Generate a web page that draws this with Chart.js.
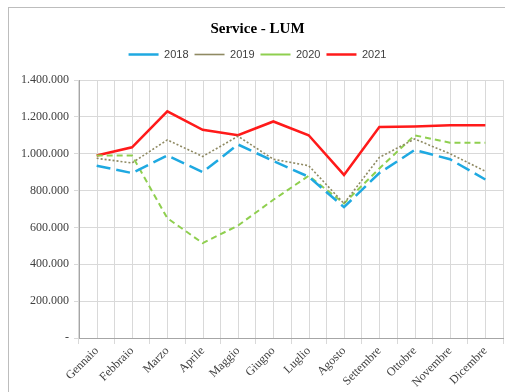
<!DOCTYPE html>
<html>
<head>
<meta charset="utf-8">
<script src="https://cdn.jsdelivr.net/npm/chart.js@4/dist/chart.umd.min.js"></script>
<style>
  html, body { margin: 0; padding: 0; background: #fff; overflow: hidden; }
  #wrap { position: relative; width: 505px; height: 392px; }
  #frame { position: absolute; left: 8px; top: 7px; width: 520px; height: 420px; border: 1px solid #bdbdbd; box-sizing: border-box; }
  canvas { position: absolute; left: 0; top: 0; }
</style>
</head>
<body>
<div id="wrap">
  <div id="frame"></div>
  <canvas id="chart" width="505" height="392"></canvas>
</div>
<script>
const months = ['Gennaio', 'Febbraio', 'Marzo', 'Aprile', 'Maggio', 'Giugno', 'Luglio', 'Agosto', 'Settembre', 'Ottobre', 'Novembre', 'Dicembre'];
const s2018 = [935000, 895000, 990000, 900000, 1050000, 960000, 875000, 710000, 895000, 1020000, 970000, 860000];
const s2019 = [975000, 950000, 1075000, 985000, 1095000, 970000, 935000, 730000, 980000, 1080000, 1000000, 905000];
const s2020 = [990000, 990000, 650000, 515000, 610000, 750000, 880000, 730000, 920000, 1100000, 1060000, 1060000];
const s2021 = [990000, 1035000, 1230000, 1130000, 1100000, 1175000, 1100000, 885000, 1145000, 1148000, 1155000, 1155000];
const yTicks = [0, 200000, 400000, 600000, 800000, 1000000, 1200000, 1400000];

const serif = '"Liberation Serif", "Times New Roman", serif';

function fmt(v) {
  if (v === 0) return '-';
  return String(v).replace(/\B(?=(\d{3})+(?!\d))/g, '.');
}

// extra vertical lines through the category centres (Excel draws both)
const centreLines = {
  id: 'centreLines',
  beforeDatasetsDraw(chart) {
    const { ctx, chartArea, scales } = chart;
    ctx.save();
    ctx.strokeStyle = '#d9d9d9';
    ctx.lineWidth = 1;
    months.forEach((m, i) => {
      const x = Math.round(scales.x.getPixelForValue(i)) + 0.5;
      ctx.beginPath();
      ctx.moveTo(x, chartArea.top);
      ctx.lineTo(x, chartArea.bottom);
      ctx.stroke();
    });
    ctx.restore();
  }
};

// a bit more room under the legend
const legendGap = {
  id: 'legendGap',
  beforeInit(chart) {
    const fit = chart.legend.fit;
    chart.legend.fit = function () {
      fit.bind(chart.legend)();
      this.height += 10;
    };
  }
};

new Chart(document.getElementById('chart'), {
  type: 'line',
  data: {
    labels: months,
    datasets: [
      { label: '2018', data: s2018, borderColor: '#1fa9e1', borderWidth: 2.5, borderDash: [14, 6] },
      { label: '2019', data: s2019, borderColor: '#8f8a63', borderWidth: 1.6, borderDash: [2, 2] },
      { label: '2020', data: s2020, borderColor: '#8fcf4f', borderWidth: 2, borderDash: [6, 4] },
      { label: '2021', data: s2021, borderColor: '#ff1a1a', borderWidth: 2.5 }
    ]
  },
  options: {
    responsive: false,
    animation: false,
    elements: { point: { radius: 0 }, line: { tension: 0 } },
    layout: { padding: { left: 12, right: 2, top: 20, bottom: 4 } },
    plugins: {
      title: {
        display: true,
        text: 'Service - LUM',
        color: '#000',
        font: { family: serif, size: 15, weight: 'bold' },
        padding: { top: 0, bottom: 5 }
      },
      legend: {
        position: 'top',
        labels: {
          usePointStyle: true,
          pointStyle: 'line',
          pointStyleWidth: 30,
          boxHeight: 10,
          color: '#404040',
          font: { family: '"Liberation Sans", Arial, sans-serif', size: 11 },
          padding: 6
        }
      },
      tooltip: { enabled: false }
    },
    scales: {
      x: {
        offset: true,
        grid: { color: '#d9d9d9', offset: true, tickLength: 6 },
        border: { color: '#a6a6a6' },
        ticks: {
          color: '#404040',
          font: { family: serif, size: 12 },
          maxRotation: 45,
          minRotation: 45,
          padding: 0
        },
        afterFit(scale) { scale.height = 50; }
      },
      y: {
        min: 0,
        max: 1400000,
        afterBuildTicks(scale) { scale.ticks = yTicks.map(v => ({ value: v })); },
        grid: { color: '#d9d9d9', tickLength: 5 },
        border: { color: '#a6a6a6' },
        ticks: {
          color: '#404040',
          font: { family: serif, size: 12 },
          padding: 5,
          callback: v => fmt(v)
        },
        afterFit(scale) { scale.width = 67; }
      }
    }
  },
  plugins: [centreLines, legendGap]
});
</script>
</body>
</html>
